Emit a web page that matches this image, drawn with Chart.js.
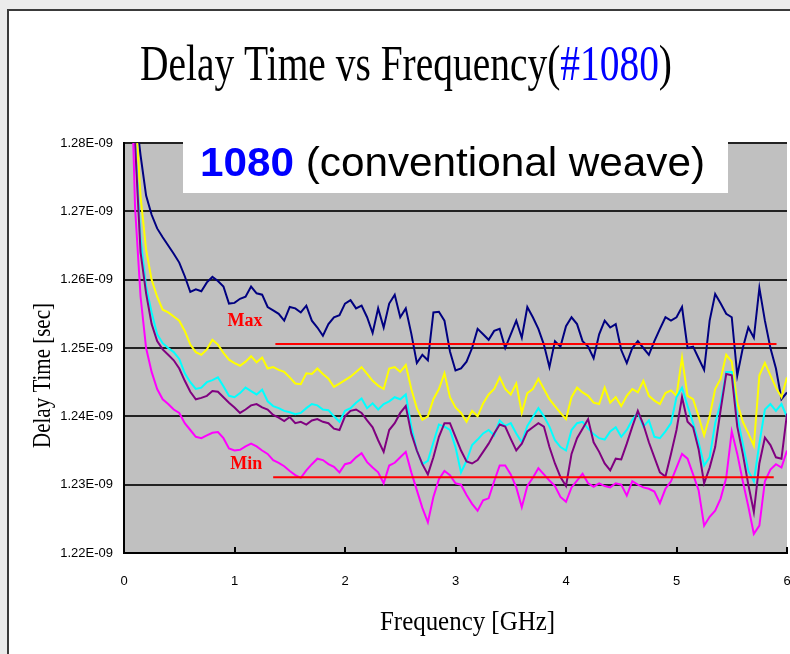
<!DOCTYPE html>
<html>
<head>
<meta charset="utf-8">
<script src="https://cdn.jsdelivr.net/npm/chart.js@4.4.1/dist/chart.umd.min.js"></script>
<style>
  html, body { margin: 0; padding: 0; background: #ebebeb; overflow: hidden; }
  #frame { position: absolute; left: 7px; top: 9px; width: 900px; height: 800px; background: #ffffff;
           border-left: 2px solid #3a3a3a; border-top: 2px solid #3a3a3a; }
  #c { position: absolute; left: 0; top: 0; }
</style>
</head>
<body>
<div id="frame"></div>
<canvas id="c" width="790" height="654"></canvas>
<script>
// ---- data (delay time in units of 1E-09 s, frequency in GHz) ----
const freq = [0.05,0.10,0.15,0.20,0.25,0.30,0.35,0.40,0.45,0.50,0.55,0.60,0.65,0.70,0.75,0.80,0.85,0.90,0.95,1.00,
1.05,1.10,1.15,1.20,1.25,1.30,1.35,1.40,1.45,1.50,1.55,1.60,1.65,1.70,1.75,1.80,1.85,1.90,1.95,2.00,
2.05,2.10,2.15,2.20,2.25,2.30,2.35,2.40,2.45,2.50,2.55,2.60,2.65,2.70,2.75,2.80,2.85,2.90,2.95,3.00,
3.05,3.10,3.15,3.20,3.25,3.30,3.35,3.40,3.45,3.50,3.55,3.60,3.65,3.70,3.75,3.80,3.85,3.90,3.95,4.00,
4.05,4.10,4.15,4.20,4.25,4.30,4.35,4.40,4.45,4.50,4.55,4.60,4.65,4.70,4.75,4.80,4.85,4.90,4.95,5.00,
5.05,5.10,5.15,5.20,5.25,5.30,5.35,5.40,5.45,5.50,5.55,5.60,5.65,5.70,5.75,5.80,5.85,5.90,5.95,6.00];

const navySeries = [1.300,1.285,1.2782,1.2723,1.2695,1.2675,1.2662,1.2650,1.2638,1.2625,1.2605,1.2582,1.2586,1.2583,1.2596,1.2604,1.2598,1.2590,1.2565,1.2566,
1.2572,1.2575,1.2590,1.2580,1.2578,1.2560,1.2555,1.2550,1.2540,1.2560,1.2558,1.2552,1.2562,1.2540,1.2530,1.2518,1.2535,1.2545,1.2548,1.2565,
1.2570,1.2558,1.2562,1.2545,1.2522,1.2558,1.2530,1.2565,1.2578,1.2545,1.2558,1.2521,1.2478,1.2490,1.2482,1.2552,1.2553,1.2540,1.2495,1.2467,
1.2470,1.2480,1.2500,1.2528,1.2520,1.2512,1.2525,1.2528,1.2500,1.2520,1.2540,1.2515,1.2560,1.2545,1.2528,1.2505,1.2472,1.2510,1.2502,1.2532,
1.2545,1.2535,1.2510,1.2502,1.2485,1.2520,1.2540,1.2530,1.2535,1.2497,1.2478,1.2500,1.2510,1.2500,1.2490,1.2510,1.2528,1.2545,1.2540,1.2545,
1.2560,1.2500,1.2502,1.2485,1.2468,1.2540,1.2579,1.2565,1.2550,1.2545,1.2460,1.2500,1.2530,1.2515,1.2588,1.2540,1.2500,1.2470,1.2425,1.2435];

const yellowSeries = [1.300,1.285,1.2722,1.2644,1.2600,1.2575,1.2556,1.2552,1.2546,1.2540,1.2525,1.2505,1.2494,1.2490,1.2498,1.2512,1.2505,1.2493,1.2483,1.2478,
1.2474,1.2480,1.2488,1.2479,1.2486,1.2470,1.2472,1.2468,1.2465,1.2457,1.2448,1.2447,1.2463,1.2462,1.2470,1.2462,1.2455,1.2443,1.2448,1.2453,
1.2458,1.2465,1.2472,1.2462,1.2452,1.2445,1.2440,1.2470,1.2472,1.2465,1.2475,1.2440,1.2412,1.2395,1.2400,1.2425,1.2440,1.2463,1.2428,1.2413,
1.2405,1.2392,1.2408,1.2400,1.2419,1.2432,1.2440,1.2457,1.2440,1.2432,1.2448,1.2405,1.2434,1.2440,1.2455,1.2440,1.2425,1.2415,1.2405,1.2396,
1.2428,1.2442,1.2435,1.2430,1.2420,1.2418,1.2442,1.2420,1.2428,1.2415,1.2430,1.2440,1.2435,1.2452,1.2430,1.2423,1.2418,1.2434,1.2438,1.2430,
1.2486,1.2430,1.2425,1.2400,1.2372,1.2400,1.2440,1.2455,1.2490,1.2480,1.2420,1.2392,1.2375,1.2357,1.2460,1.2478,1.2460,1.2442,1.2428,1.2457];

const cyanSeries = [1.300,1.280,1.2660,1.2590,1.2552,1.2520,1.2507,1.2500,1.2494,1.2484,1.2463,1.2450,1.2440,1.2442,1.2450,1.2453,1.2457,1.2444,1.2430,1.2428,
1.2434,1.2442,1.2437,1.2432,1.2439,1.2422,1.2415,1.2412,1.2408,1.2406,1.2403,1.2405,1.2412,1.2418,1.2416,1.2410,1.2409,1.2400,1.2392,1.2408,
1.2412,1.2420,1.2426,1.2412,1.2419,1.2410,1.2418,1.2422,1.2428,1.2425,1.2432,1.2385,1.2350,1.2330,1.2335,1.2362,1.2388,1.2385,1.2380,1.2355,
1.2318,1.2335,1.2358,1.2366,1.2375,1.2380,1.2372,1.2394,1.2386,1.2390,1.2375,1.2362,1.2386,1.2399,1.2412,1.2400,1.2385,1.2365,1.2355,1.2350,
1.2380,1.2390,1.2392,1.2382,1.2374,1.2368,1.2366,1.2378,1.2384,1.2370,1.2380,1.2395,1.2405,1.2385,1.2394,1.2370,1.2368,1.2378,1.2390,1.2428,
1.2442,1.2415,1.2390,1.2362,1.2328,1.2340,1.2390,1.2420,1.2465,1.2465,1.2400,1.2360,1.2320,1.2305,1.2360,1.2410,1.2418,1.2408,1.2418,1.2399];

const purpleSeries = [1.300,1.280,1.2640,1.2580,1.2535,1.2510,1.2498,1.2490,1.2482,1.2470,1.2452,1.2436,1.2425,1.2427,1.2430,1.2437,1.2436,1.2428,1.2420,1.2413,
1.2405,1.2410,1.2416,1.2418,1.2413,1.2410,1.2402,1.2398,1.2393,1.2399,1.2390,1.2392,1.2388,1.2394,1.2396,1.2392,1.2390,1.2382,1.2380,1.2400,
1.2408,1.2410,1.2405,1.2394,1.2384,1.2365,1.2348,1.2380,1.2390,1.2405,1.2415,1.2375,1.2350,1.2330,1.2315,1.2340,1.2370,1.2390,1.2390,1.2370,
1.2350,1.2334,1.2331,1.2336,1.2348,1.2360,1.2375,1.2388,1.2385,1.2367,1.2350,1.2360,1.2378,1.2384,1.2390,1.2385,1.2355,1.2331,1.2311,1.2298,
1.2345,1.2368,1.2382,1.2396,1.2362,1.2348,1.2331,1.2321,1.2338,1.2337,1.2360,1.2385,1.2408,1.2388,1.2362,1.2340,1.2318,1.2312,1.2345,1.2380,
1.2428,1.2392,1.2384,1.2352,1.2302,1.2325,1.2355,1.2410,1.2462,1.2460,1.2385,1.2345,1.2300,1.2260,1.2331,1.2369,1.2358,1.2340,1.2338,1.2404];

const magentaSeries = [1.300,1.2706,1.2575,1.2500,1.2465,1.2440,1.2425,1.2418,1.2410,1.2405,1.2390,1.2380,1.2370,1.2368,1.2372,1.2376,1.2377,1.2368,1.2353,1.2350,
1.2351,1.2356,1.2360,1.2356,1.2350,1.2345,1.2336,1.2332,1.2327,1.2320,1.2314,1.2310,1.2321,1.2330,1.2338,1.2336,1.2330,1.2326,1.2318,1.2330,
1.2332,1.2340,1.2346,1.2333,1.2325,1.2318,1.2302,1.2328,1.2332,1.2340,1.2348,1.2318,1.2292,1.2266,1.2245,1.2282,1.2308,1.2320,1.2314,1.2302,
1.2300,1.2285,1.2272,1.2262,1.2277,1.2280,1.2305,1.2328,1.2328,1.2315,1.2296,1.2267,1.2298,1.2310,1.2324,1.2315,1.2306,1.2298,1.2282,1.2275,
1.2296,1.2306,1.2316,1.2302,1.2297,1.2302,1.2298,1.2296,1.2302,1.2300,1.2284,1.2305,1.2300,1.2296,1.2294,1.2290,1.2273,1.2294,1.2305,1.2325,
1.2345,1.2338,1.2315,1.2292,1.2240,1.2253,1.2262,1.2280,1.2310,1.2378,1.2345,1.2305,1.2268,1.2228,1.2240,1.2305,1.2322,1.2330,1.2325,1.2350];

const maxRange = [1.37, 5.905];
const maxValue = 1.2506;
const minRange = [1.35, 5.88];
const minValue = 1.2311;

const yTicks = [1.22, 1.23, 1.24, 1.25, 1.26, 1.27, 1.28];
const xTicks = [0, 1, 2, 3, 4, 5, 6];

const titleParts = [["Delay Time vs Frequency(", "#000000"], ["#1080", "#0000ff"], [")", "#000000"]];
const boxParts = [["1080", "#0000ff", "bold"], [" (conventional weave)", "#000000", ""]];
const xTitle = "Frequency [GHz]";
const yTitle = "Delay Time [sec]";

// ---- helpers ----
function pts(vals) { return freq.map((f, i) => ({ x: f, y: vals[i] })); }
function seg(range, v) { return range.map(x => ({ x: x, y: v })); }

function drawCondensed(ctx, parts, size, family, x0, baseline, targetW) {
  let total = 0;
  const widths = parts.map(p => {
    ctx.font = (p[2] ? p[2] + " " : "") + size + "px " + family;
    const w = ctx.measureText(p[0]).width; total += w; return w;
  });
  const s = targetW / total;
  ctx.save();
  ctx.translate(x0, baseline);
  ctx.scale(s, 1);
  let x = 0;
  parts.forEach((p, i) => {
    ctx.font = (p[2] ? p[2] + " " : "") + size + "px " + family;
    ctx.fillStyle = p[1];
    ctx.textAlign = "left";
    ctx.textBaseline = "alphabetic";
    ctx.fillText(p[0], x, 0);
    x += widths[i];
  });
  ctx.restore();
}

const decor = {
  id: "decor",
  beforeDraw(chart) {
    const { ctx, chartArea: a } = chart;
    ctx.save();
    ctx.fillStyle = "#c0c0c0";
    ctx.fillRect(a.left, a.top, a.right - a.left, a.bottom - a.top);
    ctx.restore();
  },
  afterDatasetsDraw(chart) {
    const { ctx, chartArea: a, scales } = chart;
    // white label box inside plot
    ctx.save();
    ctx.fillStyle = "#ffffff";
    ctx.fillRect(183, a.top - 2, 545, 52);
    ctx.restore();
    drawCondensed(ctx, boxParts, 40, '"Liberation Sans", Arial, sans-serif', 200, 176, 505);
    // Max / Min labels
    ctx.save();
    ctx.font = 'bold 18px "Liberation Serif", serif';
    ctx.fillStyle = "#ff0000";
    ctx.textAlign = "right";
    ctx.textBaseline = "alphabetic";
    ctx.fillText("Max", scales.x.getPixelForValue(maxRange[0]) - 13, scales.y.getPixelForValue(maxValue) - 18);
    ctx.fillText("Min", scales.x.getPixelForValue(minRange[0]) - 11, scales.y.getPixelForValue(minValue) - 8);
    ctx.restore();
  },
  afterDraw(chart) {
    const { ctx, chartArea: a, scales } = chart;
    // inward x tick marks
    ctx.save();
    ctx.strokeStyle = "#000000";
    ctx.lineWidth = 2;
    xTicks.forEach(v => {
      const px = Math.round(scales.x.getPixelForValue(v));
      ctx.beginPath(); ctx.moveTo(px, a.bottom); ctx.lineTo(px, a.bottom - 6); ctx.stroke();
    });
    ctx.restore();
    // chart title
    drawCondensed(ctx, titleParts, 50, '"Liberation Serif", serif', 140, 80, 532);
    // x axis title
    drawCondensed(ctx, [[xTitle, "#000000"]], 28, '"Liberation Serif", serif', 380, 630, 175);
    // y axis title (rotated)
    ctx.save();
    ctx.translate(50, 376);
    ctx.rotate(-Math.PI / 2);
    drawCondensed(ctx, [[yTitle, "#000000"]], 26, '"Liberation Serif", serif', -72, 0, 145);
    ctx.restore();
  }
};

const lineDefaults = { pointRadius: 0, borderWidth: 2, tension: 0, fill: false };

new Chart(document.getElementById("c"), {
  type: "line",
  data: {
    datasets: [
      Object.assign({ label: "Max", data: seg(maxRange, maxValue), borderColor: "#ff0000", order: 0 }, lineDefaults),
      Object.assign({ label: "Min", data: seg(minRange, minValue), borderColor: "#ff0000", order: 0 }, lineDefaults),
      Object.assign({ label: "S5", data: pts(magentaSeries), borderColor: "#ff00ff", order: 1 }, lineDefaults),
      Object.assign({ label: "S4", data: pts(purpleSeries), borderColor: "#800080", order: 2 }, lineDefaults),
      Object.assign({ label: "S3", data: pts(cyanSeries), borderColor: "#00ffff", order: 3 }, lineDefaults),
      Object.assign({ label: "S2", data: pts(yellowSeries), borderColor: "#ffff00", order: 4 }, lineDefaults),
      Object.assign({ label: "S1", data: pts(navySeries), borderColor: "#000080", order: 5 }, lineDefaults)
    ]
  },
  options: {
    responsive: false,
    animation: false,
    devicePixelRatio: 1,
    layout: { padding: { top: 143, right: 3, left: 0, bottom: 0 } },
    plugins: { legend: { display: false }, title: { display: false }, tooltip: { enabled: false } },
    scales: {
      x: {
        type: "linear",
        min: 0, max: 6,
        afterBuildTicks(scale) { scale.ticks = xTicks.map(v => ({ value: v })); },
        ticks: { color: "#000000", font: { family: '"Liberation Sans", Arial, sans-serif', size: 13 }, padding: 21,
                 maxRotation: 0, autoSkip: false, callback: v => String(v) },
        grid: { display: true, drawOnChartArea: false, drawTicks: false },
        border: { display: true, color: "#000000", width: 2 },
        afterFit(scale) { scale.height = 101; scale.paddingLeft = 0; scale.paddingRight = 0; }
      },
      y: {
        type: "linear",
        min: 1.22, max: 1.28,
        afterBuildTicks(scale) { scale.ticks = yTicks.map(v => ({ value: v })); },
        ticks: { color: "#000000", font: { family: '"Liberation Sans", Arial, sans-serif', size: 13 }, padding: 11,
                 callback: v => v.toFixed(2) + "E-09" },
        grid: { color: "#222222", lineWidth: 2, drawTicks: false },
        border: { display: true, color: "#000000", width: 2 },
        afterFit(scale) { scale.width = 124; scale.paddingTop = 0; scale.paddingBottom = 0; }
      }
    }
  },
  plugins: [decor]
});
</script>
</body>
</html>
